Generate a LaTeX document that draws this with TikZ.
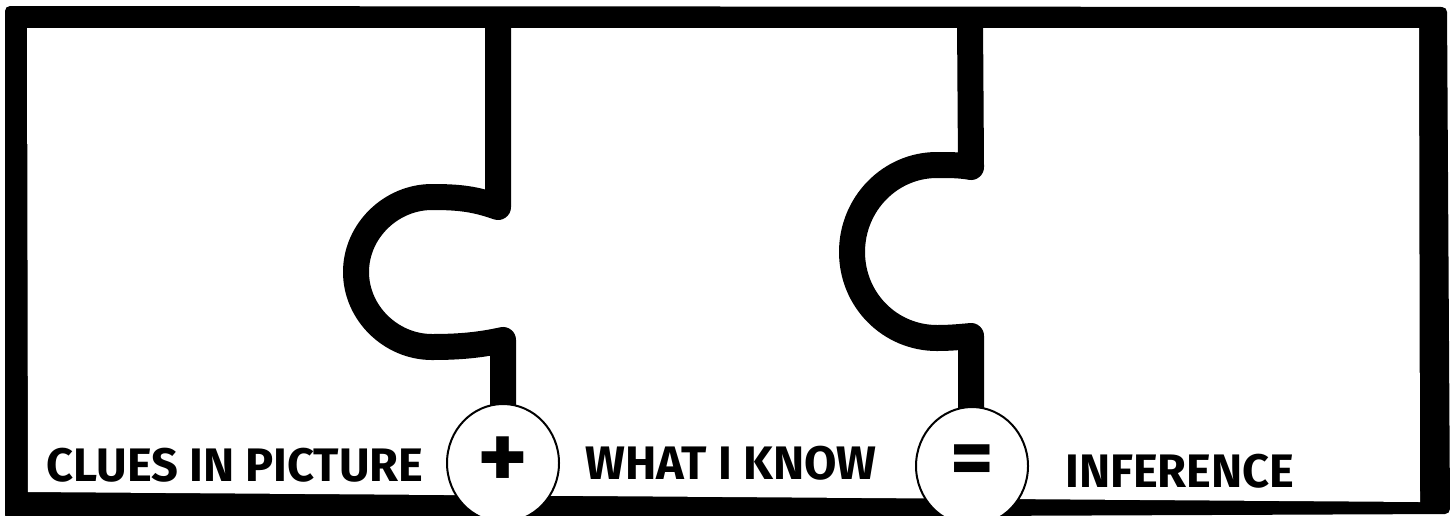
\documentclass[tikz,border=0pt]{standalone}
\usepackage{fontspec}
\newfontfamily\markerfont{Fira Sans}
\usetikzlibrary{shapes.geometric}

\begin{document}
\begin{tikzpicture}[x=1pt,y=-1pt,
      every node/.style={font=\markerfont\bfseries\fontsize{47}{50}\selectfont},
      piece/.style={line width=26pt,line join=round,line cap=round},
      opcircle/.style={ellipse,draw,line width=2pt,fill=white,inner sep=0pt,
        minimum width=112pt,minimum height=118pt,
        font=\markerfont\bfseries\fontsize{96}{96}\selectfont},
      cluetext/.style={anchor=base,inner sep=0pt}]
    \path[use as bounding box] (0,0) rectangle (1455,515);
    \clip (0,0) rectangle (1455,515);
    \fill[white] (0,0) rectangle (1455,515);
    % Frame: black border round a white board
    \fill[black,rounded corners=5pt] (5,6) -- (1447,7) -- (1450,514) -- (5,520) -- cycle;
    \fill[white] (27,28) -- (1419,28) -- (1420,502) -- (28,492) -- cycle;
    % Puzzle seams with knobs pointing left
    \draw[piece] (498,20) -- (498,207) .. controls (475,199) and (460,197) .. (432,197)
      .. controls (391,197) and (356,231) .. (356,272)
      .. controls (356,313) and (391,347) .. (432,347)
      .. controls (460,347) and (480,345) .. (503,340) -- (503,440);
    \draw[piece] (970,20) -- (971,167) .. controls (960,165) and (950,165) .. (937,165)
      .. controls (890,165) and (852,204) .. (852,252)
      .. controls (852,300) and (890,338) .. (937,338)
      .. controls (950,338) and (960,337) .. (971,336) -- (971,440);
    % Operators sitting on the seams
    \node[opcircle] (plus) at (503,463) {+};
    \node[opcircle,font=\markerfont\bfseries\fontsize{84}{84}\selectfont] (equals) at (972,466) {=};
    % Labels along the bottom
    \node[cluetext] (clues) at (235,481) {CLUES IN PICTURE};
    \node[cluetext] (know) at (731,479) {WHAT I KNOW};
    \node[cluetext] (infer) at (1180,487) {INFERENCE};
  \end{tikzpicture}
\end{document}
